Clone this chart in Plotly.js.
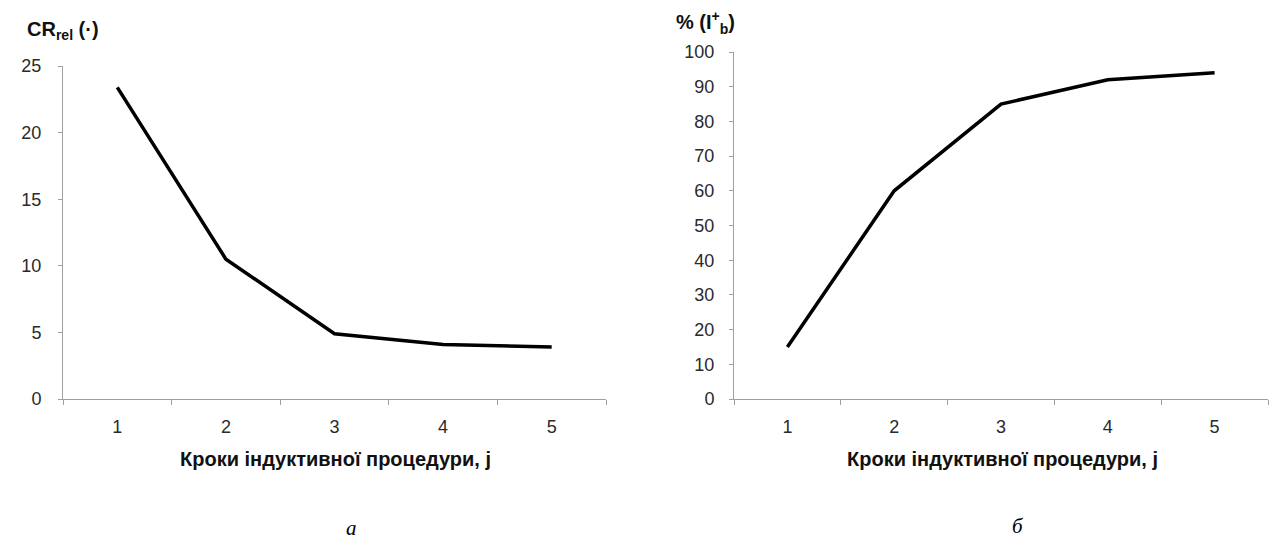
<!DOCTYPE html>
<html>
<head>
<meta charset="utf-8">
<script src="https://cdn.plot.ly/plotly-3.0.1.min.js"></script>
<style>html,body{margin:0;padding:0;background:#fff;}#chart{width:1271px;height:540px;}</style>
</head>
<body>
<div id="chart"></div>
<script>
const steps = ['1', '2', '3', '4', '5'];
const crRel = [23.4, 10.5, 4.9, 4.1, 3.9];
const pctIb = [15, 60, 85, 92, 94];
const leftTicks = [0, 5, 10, 15, 20, 25];
const rightTicks = [0, 10, 20, 30, 40, 50, 60, 70, 80, 90, 100];
const xTitle = 'Кроки індуктивної процедури, j';
const leftYTitle = '<b>CR<sub>rel</sub> (·)</b>';
const rightYTitle = '<b>% (I<sup>+</sup><sub>b</sub>)</b>';
const captions = ['а', 'б'];

const W = 1271, H = 540;
const px = v => v / W;
const py = v => (H - v) / H;

const font = {family: 'Liberation Sans, Arial, sans-serif', size: 18, color: '#2a2a2a'};
const lineStyle = {color: '#000', width: 3.5};

const traces = [
  {x: steps, y: crRel, type: 'scatter', mode: 'lines', line: lineStyle, xaxis: 'x', yaxis: 'y', hoverinfo: 'skip'},
  {x: steps, y: pctIb, type: 'scatter', mode: 'lines', line: lineStyle, xaxis: 'x2', yaxis: 'y2', hoverinfo: 'skip'}
];

const xCommon = {
  type: 'category', range: [-0.5, 4.5], showline: true, linecolor: '#a0a0a0', linewidth: 1,
  ticks: 'outside', tickson: 'boundaries', ticklen: 5, tickcolor: '#a0a0a0',
  showgrid: false, zeroline: false, tickfont: font, ticklabelstandoff: 11, fixedrange: true
};
const yCommon = {
  showline: true, linecolor: '#a0a0a0', linewidth: 1,
  ticks: 'outside', ticklen: 4, tickcolor: '#a0a0a0',
  showgrid: false, zeroline: false, tickfont: font, fixedrange: true
};

const titleFont = {family: 'Liberation Sans, Arial, sans-serif', size: 20, color: '#111'};

const layout = {
  width: W, height: H,
  margin: {l: 0, r: 0, t: 0, b: 0},
  paper_bgcolor: '#fff', plot_bgcolor: '#fff',
  showlegend: false,
  xaxis: Object.assign({}, xCommon, {domain: [px(63), px(606)], anchor: 'y'}),
  yaxis: Object.assign({}, yCommon, {domain: [py(399), py(66)], range: [0, 25], tickvals: leftTicks, anchor: 'x', ticklabelstandoff: 13}),
  xaxis2: Object.assign({}, xCommon, {domain: [px(734), px(1268)], anchor: 'y2'}),
  yaxis2: Object.assign({}, yCommon, {domain: [py(399), py(52)], range: [0, 100], tickvals: rightTicks, anchor: 'x2', ticklabelstandoff: 11}),
  annotations: [
    {text: leftYTitle, xref: 'paper', yref: 'paper', x: px(25), y: py(30), xanchor: 'left', yanchor: 'middle', showarrow: false, font: titleFont},
    {text: rightYTitle, xref: 'paper', yref: 'paper', x: px(674), y: py(22), xanchor: 'left', yanchor: 'middle', showarrow: false, font: titleFont},
    {text: '<b>' + xTitle + '</b>', xref: 'paper', yref: 'paper', x: px(335), y: py(459), xanchor: 'center', yanchor: 'middle', showarrow: false, font: titleFont},
    {text: '<b>' + xTitle + '</b>', xref: 'paper', yref: 'paper', x: px(1002), y: py(459), xanchor: 'center', yanchor: 'middle', showarrow: false, font: titleFont},
    {text: '<i>' + captions[0] + '</i>', xref: 'paper', yref: 'paper', x: px(351), y: py(528), xanchor: 'center', yanchor: 'middle', showarrow: false,
     font: {family: 'Liberation Serif, Times New Roman, serif', size: 21, color: '#000'}},
    {text: '<i>' + captions[1] + '</i>', xref: 'paper', yref: 'paper', x: px(1018), y: py(526), xanchor: 'center', yanchor: 'middle', showarrow: false,
     font: {family: 'Liberation Serif, Times New Roman, serif', size: 21, color: '#000'}}
  ]
};

Plotly.newPlot('chart', traces, layout, {displayModeBar: false, staticPlot: true});
</script>
</body>
</html>
